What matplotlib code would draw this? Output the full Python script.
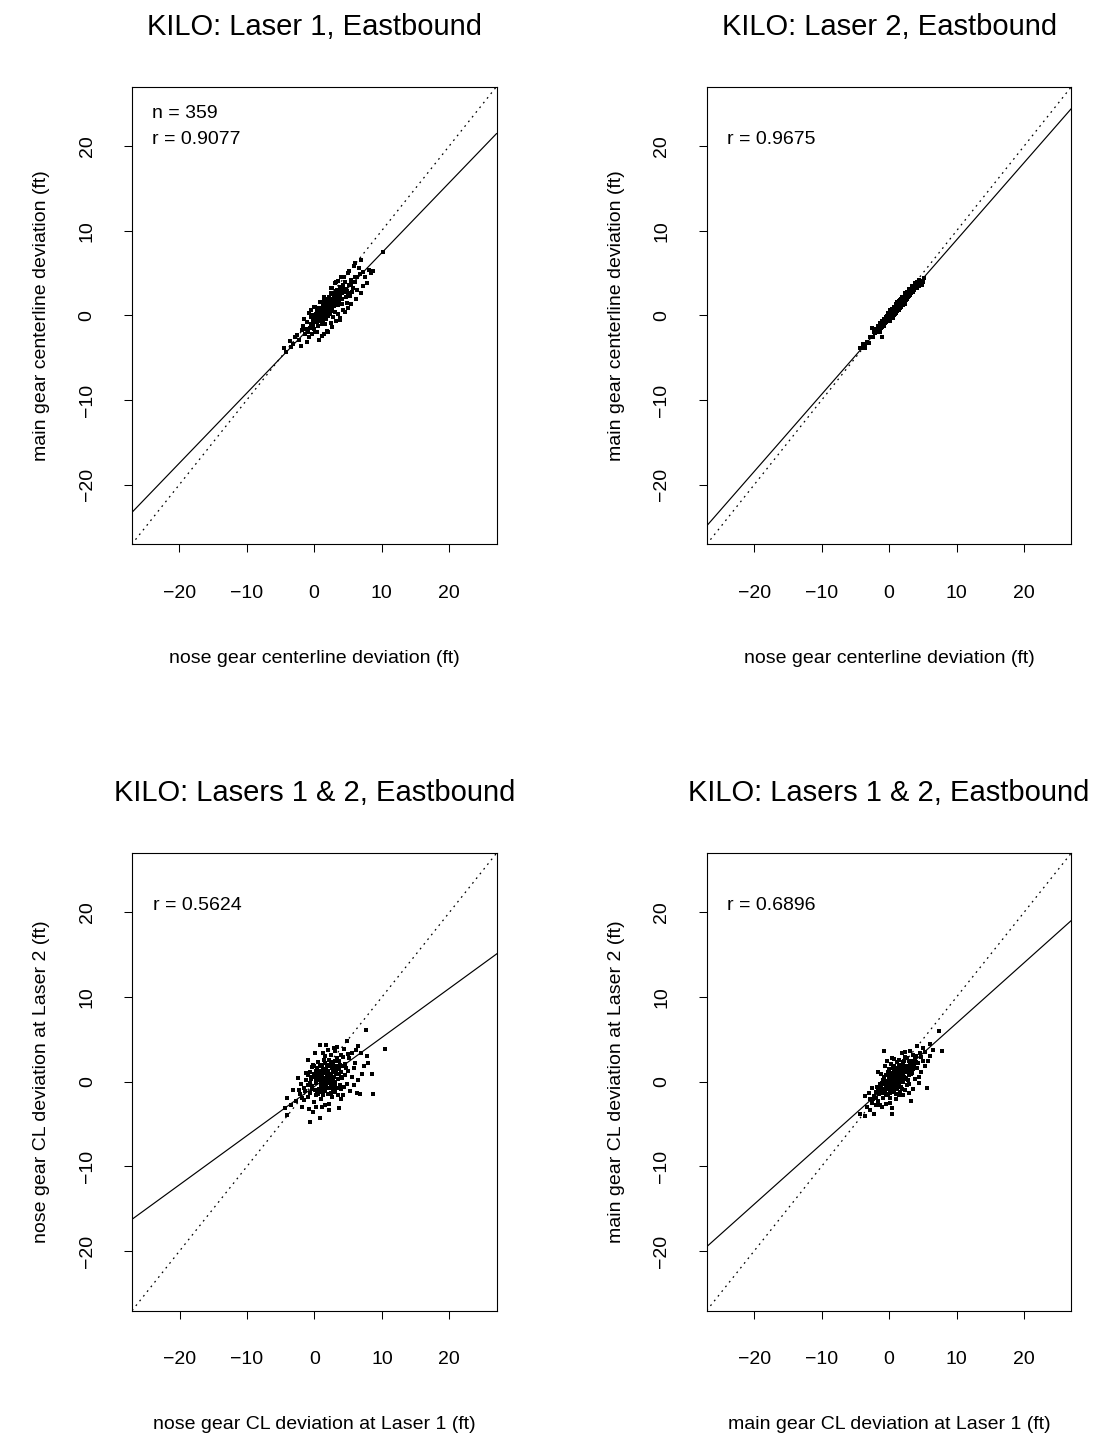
import matplotlib
matplotlib.use("Agg")
import matplotlib.pyplot as plt

plt.rcParams['font.family'] = ['Liberation Sans', 'DejaVu Sans']

# ---------------- data ----------------
titles = ["KILO: Laser 1, Eastbound", "KILO: Laser 2, Eastbound",
          "KILO: Lasers 1 & 2, Eastbound", "KILO: Lasers 1 & 2, Eastbound"]
xlabels = ["nose gear centerline deviation (ft)", "nose gear centerline deviation (ft)",
           "nose gear CL deviation at Laser 1 (ft)", "main gear CL deviation at Laser 1 (ft)"]
ylabels = ["main gear centerline deviation (ft)", "main gear centerline deviation (ft)",
           "nose gear CL deviation at Laser 2 (ft)", "main gear CL deviation at Laser 2 (ft)"]
annotations = [["n = 359", "r = 0.9077"], ["r = 0.9675"], ["r = 0.5624"], ["r = 0.6896"]]

# fitted regression lines (intercept, slope)
fit_intercepts = [-0.9, -0.2, -0.57, -0.22]
fit_slopes = [0.828, 0.912, 0.58, 0.713]

ticks = [-20, -10, 0, 10, 20]
axis_limit = [-27.04, 27.04]

laser1_points = [
    (1.2,0.3),(0.8,-0.5),(2.1,0.9),(1.5,0.1),(0.3,-0.8),(2.6,1.4),(3.0,1.1),(1.9,1.6),(0.5,0.4),(-0.2,-1.1),
    (1.0,-0.2),(2.3,0.2),(3.4,2.0),(2.8,2.5),(1.7,-0.4),(0.1,-0.3),(-0.6,-1.5),(1.3,1.2),(2.0,-0.1),(3.7,1.8),
    (4.1,2.6),(0.9,0.8),(1.6,0.6),(2.4,1.9),(-0.9,-1.9),(0.0,-1.6),(3.2,2.9),(4.4,3.1),(2.7,0.5),(1.1,-1.0),
    (0.6,-1.2),(1.4,1.7),(2.2,2.2),(3.9,3.4),(4.8,2.9),(5.2,3.6),(0.4,0.9),(-0.4,-0.2),(1.8,0.0),(2.9,1.6),
    (3.5,1.2),(4.6,3.9),(5.5,4.2),(6.1,4.0),(5.8,3.3),(-1.3,-2.2),(-1.8,-1.7),(-2.2,-2.9),(-2.6,-2.3),(-3.1,-3.4),
    (-3.6,-3.0),(-4.1,-4.3),(-4.4,-3.9),(-1.1,-0.8),(-0.7,-2.6),(0.2,-2.0),(0.7,-2.9),(1.5,-2.2),(2.5,-0.9),(3.3,-0.6),
    (3.8,-0.5),(4.3,0.7),(4.9,1.5),(5.3,2.3),(6.4,3.0),(6.8,4.9),(7.2,5.1),(7.6,4.6),(8.1,5.4),(8.5,5.0),
    (8.8,5.3),(7.9,3.8),(6.6,5.6),(5.9,5.8),(5.1,5.2),(4.5,4.6),(3.6,4.1),(3.1,3.8),(2.6,3.3),(1.6,2.0),
    (0.9,1.6),(0.2,1.0),(-0.5,0.6),(-1.5,-0.4),(2.5,3.2),(3.3,3.9),(3.4,3.0),(4.0,1.9),(4.7,2.2),(5.6,2.8),
    (6.2,2.0),(5.0,0.9),(3.6,0.2),(2.6,-1.4),(1.9,-1.8),(1.2,-2.4),(0.5,-1.9),(-0.3,-2.2),(-1.0,-3.1),(-2.0,-3.6),
    (10.2,7.5),(7.0,6.6),(6.0,6.2),(5.0,5.0),(4.0,4.6),(1.5,2.2),(0.0,1.0),(-0.8,0.3),(2.1,-1.9),(3.9,-0.3),
    (4.6,0.4),(5.4,1.3),(6.9,2.6),(7.3,3.5),(1.0,0.5),(1.7,1.0),(2.4,0.7),(0.6,0.0),(3.1,0.4),(2.2,1.3),
    (1.3,-0.6),(0.3,0.2),(2.9,2.0),(3.7,2.5),(4.0,3.0),(4.3,3.6),(1.8,2.0),(2.5,2.7),(1.4,0.9),(2.0,0.5),
    (2.7,1.2),(3.3,1.5),(0.8,0.1),(1.1,0.6),(1.9,1.1),(2.3,1.6),(3.0,2.3),(3.8,2.9),(0.4,-0.4),(-0.1,-0.6),
    (1.6,-1.0),(2.8,-0.2),(4.2,1.3),(5.0,2.6),(5.7,3.9),(6.3,4.5),(-2.9,-2.6),(-3.4,-3.7),(-1.6,-1.2),(-0.3,0.1),
    (1.0,0.2),(1.5,0.8),(2.0,1.0),(2.5,1.0),(3.0,1.8),(0.7,-0.6),(1.8,0.4),(2.2,0.8),(2.9,1.2),(3.4,2.4),
    (0.2,-0.5),(0.9,-0.3),(1.4,0.3),(2.6,0.9),(3.6,1.5),(4.1,2.0),(1.2,0.8),(1.7,1.4),(2.3,1.1),(2.8,1.7),
    (0.5,-0.8),(1.1,-0.5),(2.1,1.8),(3.2,2.1),(3.9,2.2),(4.7,3.1),(0.0,-0.8),(-0.5,-1.0),(1.6,-0.2),(2.7,2.0),
    (3.5,2.7),(4.5,2.8),(5.4,3.7),(6.0,4.6),(1.3,0.0),(2.4,1.3),(0.8,0.9),(1.9,0.6),(3.1,2.6),(-1.2,-1.6),
]

laser2_points = [
    (1.0,0.7),(1.3,1.0),(0.8,0.4),(1.6,1.2),(0.5,0.2),(2.0,1.6),(0.2,-0.1),(1.1,0.9),(1.8,1.7),(2.3,2.0),
    (0.0,-0.4),(-0.3,-0.5),(0.6,0.6),(1.4,0.8),(2.6,2.4),(2.9,2.3),(3.2,2.9),(0.9,1.0),(1.5,1.5),(2.1,1.5),
    (-0.6,-0.9),(-0.9,-1.0),(-1.2,-1.5),(0.3,0.4),(1.2,1.3),(1.7,1.1),(2.4,2.3),(2.8,2.7),(3.5,3.0),(3.8,3.3),
    (0.4,-0.2),(0.7,0.1),(1.9,1.3),(2.2,2.1),(2.5,1.8),(3.0,2.6),(3.3,3.1),(4.0,3.6),(4.3,3.7),(4.6,3.9),
    (-0.1,0.0),(-0.5,-0.2),(-0.8,-1.3),(-1.5,-1.6),(-1.8,-2.0),(-2.1,-2.1),(-2.4,-2.5),(-2.0,-1.6),(-1.0,-0.7),(0.1,0.3),
    (1.0,0.3),(1.3,0.6),(0.6,-0.3),(1.6,0.9),(2.0,1.2),(2.7,2.0),(3.1,2.4),(3.6,3.4),(4.1,3.2),(4.8,4.1),
    (5.0,4.0),(4.9,3.6),(4.5,4.2),(3.9,3.8),(3.4,3.5),(2.9,3.1),(2.3,2.6),(1.7,2.0),(1.2,1.6),(0.7,1.0),
    (0.2,0.7),(-0.2,0.3),(-0.7,-0.4),(-1.3,-0.9),(-2.5,-1.5),(-1.0,-2.5),(-3.6,-3.5),(-3.8,-3.7),(-4.0,-3.9),(-3.9,-3.4),
    (-3.5,-3.9),(-4.3,-3.8),(-3.2,-3.1),(-2.8,-2.6),(-3.0,-3.3),(0.9,0.6),(1.1,1.1),(1.4,1.2),(1.8,1.4),(2.1,1.9),
    (2.4,1.7),(0.5,0.5),(0.8,0.8),(1.5,0.7),(2.6,2.1),(3.0,2.8),(1.9,2.2),(1.2,0.5),(0.3,0.0),(-0.4,-0.8),
    (-1.6,-1.2),(-1.1,-1.4),(0.0,0.2),(0.6,0.3),(1.7,1.6),(2.2,1.7),(2.8,2.4),(3.7,3.0),(4.2,3.9),(5.2,4.4),
    (1.0,1.4),(1.6,1.8),(2.0,2.0),(2.5,2.6),(0.4,0.8),(-0.2,-0.3),(-0.6,-0.6),(1.3,1.5),(0.9,0.2),(2.3,1.4),
    (3.2,2.6),(3.5,2.8),(0.1,-0.6),(-1.4,-1.9),(1.4,1.7),(1.8,1.0),(2.6,2.8),(3.9,3.5),(4.4,3.5),(-2.2,-1.9),
    (0.5,0.0),(1.0,0.5),(1.5,1.0),(2.0,1.4),(2.5,2.0),(3.0,2.5),(0.2,0.2),(0.8,0.5),(1.3,0.8),(1.8,1.5),
    (2.3,1.8),(2.8,2.2),(3.3,2.7),(-0.3,-0.1),(0.1,-0.2),(0.7,0.7),(1.2,0.7),(1.7,1.3),(2.2,1.6),(2.7,2.5),
    (3.6,3.1),(4.0,3.4),(-0.8,-0.8),(-1.7,-1.5),(1.1,0.8),(1.6,1.4),(2.1,1.8),(0.4,0.3),(0.9,0.8),(1.4,1.0),
]

lasers12_nose_points = [
    (2.1,0.7),(1.5,0.3),(2.8,1.2),(0.9,-0.4),(3.4,0.9),(1.2,1.5),(2.5,-0.5),(0.4,0.8),(1.8,2.0),(3.0,2.4),
    (-0.3,-0.9),(0.2,-1.6),(1.0,0.1),(1.6,-1.1),(2.3,1.8),(3.7,1.5),(4.1,0.4),(2.0,-1.4),(0.7,1.2),(1.3,-0.2),
    (2.7,0.3),(3.3,-0.8),(4.5,2.1),(5.0,1.3),(4.8,-0.3),(0.0,0.5),(-0.6,-0.2),(-1.0,-1.8),(-1.5,-0.7),(-2.1,-1.4),
    (-2.7,-2.3),(-3.2,-1.0),(-4.1,-1.9),(-4.3,-3.1),(-4.1,-3.9),(-3.5,-2.8),(-2.4,0.4),(-1.8,-3.0),(-0.7,-4.8),(0.8,-4.3),
    (-0.2,-3.6),(1.1,-3.0),(2.2,-2.6),(3.6,-3.1),(5.3,-1.1),(6.3,-1.3),(6.8,-1.4),(8.7,-1.5),(8.5,0.9),(7.8,3.0),
    (10.5,3.9),(6.5,4.2),(7.7,6.1),(4.8,4.8),(1.7,4.3),(0.8,4.3),(3.1,3.6),(2.4,3.1),(5.6,3.4),(6.0,2.2),
    (5.5,0.5),(4.2,-1.6),(3.9,3.2),(1.4,2.6),(0.5,2.3),(-0.4,1.7),(-1.2,1.0),(-0.9,2.6),(0.1,3.4),(2.9,4.0),
    (4.4,3.9),(6.9,3.4),(7.3,1.8),(6.4,0.2),(1.9,0.9),(2.6,1.6),(1.1,0.6),(0.6,-0.9),(1.7,-0.5),(2.4,0.0),
    (3.2,1.0),(3.8,2.0),(0.3,-0.2),(-0.1,0.9),(1.4,1.0),(2.0,1.3),(2.9,-0.2),(3.5,0.3),(4.0,1.1),(4.6,0.8),
    (1.6,2.2),(2.2,2.6),(0.8,1.8),(-0.5,0.3),(-1.0,-0.4),(-1.6,-2.2),(-2.3,-1.0),(0.0,-2.4),(0.9,-2.0),(1.5,-2.7),
    (2.6,-1.8),(3.0,-1.2),(4.4,-0.6),(5.1,2.8),(5.8,1.6),(3.3,2.8),(1.2,3.4),(-0.2,2.0),(2.7,2.0),(1.9,-0.1),
    (0.5,0.4),(1.0,-1.2),(2.3,0.6),(3.6,0.9),(4.3,2.9),(-1.3,0.2),(-2.0,-0.3),(-0.8,-3.2),(0.3,-3.0),(2.1,-3.4),
    (3.9,-2.0),(5.9,-0.4),(7.1,0.9),(8.0,2.2),(6.2,3.8),(4.9,3.3),(3.4,4.1),(2.0,3.7),(1.3,0.4),(2.5,0.9),
    (1.7,1.4),(0.7,0.2),(3.1,1.6),(2.9,0.6),(1.6,-0.6),(0.2,1.3),(-0.7,-1.3),(-1.9,-1.9),(0.4,-1.1),(1.8,0.4),
    (0.6,1.0),(1.1,2.0),(1.9,1.8),(2.6,0.4),(3.3,1.9),(0.2,0.1),(0.9,0.9),(1.5,-0.9),(2.2,-0.7),(3.0,0.0),
    (3.8,-0.4),(4.2,1.8),(-0.4,-0.5),(0.1,-1.0),(1.3,-1.6),(2.5,2.3),(3.6,2.5),(1.0,1.3),(1.7,0.2),(2.8,-1.0),
    (0.4,1.6),(-0.3,0.6),(2.1,0.1),(3.1,-0.5),(4.7,1.6),(1.4,-0.3),(2.0,2.0),(0.8,0.6),(-0.9,0.8),(-1.4,-1.1),
    (3.5,-1.6),(4.0,-0.9),(0.0,1.9),(1.6,3.0),(2.4,-1.3),(1.2,-0.7),(2.9,1.3),(3.9,0.6),(0.5,-1.4),(-0.6,1.1),
]

lasers12_main_points = [
    (0.9,0.3),(1.3,0.8),(0.4,-0.2),(1.8,1.2),(0.0,0.5),(2.2,0.6),(-0.5,-0.6),(1.0,1.4),(2.6,1.9),(1.5,-0.3),
    (-0.9,0.2),(0.6,1.6),(2.0,2.3),(3.0,1.5),(-1.3,-1.1),(-0.2,-1.4),(1.2,-0.9),(2.8,0.2),(3.4,2.4),(0.3,2.1),
    (-1.8,-0.6),(-2.3,-1.7),(-1.6,-2.3),(-2.9,-2.1),(-3.5,-1.7),(-3.2,-3.0),(-4.3,-3.85),(-3.5,-4.1),(-2.3,-3.85),(-2.8,-3.3),
    (0.45,-3.85),(0.45,-3.1),(3.2,-2.3),(5.6,-0.7),(7.9,3.6),(7.4,6.0),(6.1,4.4),(4.2,4.2),(-0.8,3.6),(1.9,3.4),
    (4.0,3.0),(5.1,2.5),(4.7,1.1),(3.8,0.3),(2.4,-1.0),(1.0,-2.0),(-0.4,-2.6),(-1.1,-3.0),(-1.7,1.2),(-0.6,1.9),
    (0.8,2.7),(2.3,2.9),(3.1,3.6),(5.3,3.5),(6.0,3.0),(4.5,-0.2),(3.6,-0.9),(2.0,-1.6),(0.1,-1.9),(-2.0,-2.8),
    (0.7,0.0),(1.1,0.5),(1.6,0.9),(0.2,-0.5),(-0.3,0.1),(2.5,1.1),(1.4,1.9),(0.5,1.0),(1.9,0.1),(2.9,2.5),
    (3.5,1.5),(4.3,2.2),(-0.7,-0.3),(-1.2,-0.7),(0.0,-0.9),(1.7,-0.6),(2.7,-0.4),(0.8,-1.2),(-0.1,1.2),(1.2,2.3),
    (2.1,1.6),(3.2,0.9),(4.1,1.6),(4.8,2.9),(5.4,1.8),(-1.5,-1.5),(-2.5,-0.8),(-0.9,-1.9),(0.3,0.6),(1.5,1.3),
    (2.3,0.4),(0.6,-0.6),(1.0,0.9),(1.8,2.0),(2.6,2.8),(-0.4,0.8),(-1.0,-0.1),(0.9,-0.3),(1.3,0.2),(2.0,0.9),
    (3.3,2.0),(3.9,2.7),(-2.0,-1.2),(-2.6,-2.5),(-3.0,-1.3),(-1.3,-2.7),(0.2,-2.5),(1.4,-1.6),(2.9,-1.3),(4.4,0.6),
    (5.7,2.4),(6.5,3.8),(5.0,4.0),(3.6,3.2),(2.4,3.5),(0.4,2.8),(-0.3,2.4),(-1.2,0.9),(1.6,0.4),(0.7,1.3),
    (1.1,-0.4),(2.2,1.3),(0.1,0.2),(-0.6,-1.1),(1.9,-0.9),(2.8,1.2),(3.0,-0.3),(-0.2,-0.4),(1.5,2.6),(4.6,3.4),
    (0.5,0.4),(1.2,1.0),(0.3,-0.9),(1.7,1.5),(-0.1,-0.2),(2.4,1.6),(-0.8,-0.9),(0.8,1.8),(2.1,2.1),(1.3,-0.5),
    (-1.4,-0.3),(0.0,1.5),(2.7,1.7),(3.1,2.2),(-0.5,-1.6),(0.9,-0.7),(1.6,-1.2),(2.5,0.3),(3.7,2.0),(-1.9,-1.9),
    (-1.1,-1.3),(0.6,0.7),(1.4,0.5),(2.0,0.0),(2.9,0.8),(0.2,1.0),(-0.3,-0.8),(1.8,0.6),(1.0,-1.4),(-0.7,0.5),
    (3.4,1.0),(2.2,2.5),(0.7,-0.1),(1.3,1.6),(-1.6,-0.9),(-2.4,-2.0),(4.0,2.3),(0.4,0.2),(1.9,1.4),(0.1,-1.3),
]

panel_points = [laser1_points, laser2_points, lasers12_nose_points, lasers12_main_points]

# ---------------- layout ----------------
W, H = 1097, 1437
fig = plt.figure(figsize=(W / 100, H / 100), dpi=100)
fig.patch.set_facecolor("white")

ax_w, ax_h = 0.3325, 0.3185
lefts = [0.1201, 0.6442, 0.1204, 0.6442]
bottoms = [0.6212, 0.6212, 0.0880, 0.0880]

for i in range(4):
    ax = fig.add_axes([lefts[i], bottoms[i], ax_w, ax_h])
    ax.set_xlim(axis_limit)
    ax.set_ylim(axis_limit)

    xs = [p[0] for p in panel_points[i]]
    ys = [p[1] for p in panel_points[i]]
    ax.plot(xs, ys, linestyle="none", marker="s", markersize=2.2,
            markeredgewidth=0, color="black", zorder=3)

    ax.axline((0, 0), slope=1, color="black", lw=0.9, linestyle=(0, (1.4, 3.4)))
    ax.axline((0, fit_intercepts[i]), slope=fit_slopes[i], color="black", lw=0.85)

    ax.set_xticks(ticks)
    ax.set_yticks(ticks)
    ax.set_xticklabels([str(t).replace("-", "\u2212") for t in ticks])
    ax.set_yticklabels([str(t).replace("-", "\u2212") for t in ticks])
    ax.tick_params(axis="both", direction="out", length=5.8, width=0.75,
                   labelsize=14, color="black")
    ax.tick_params(axis="x", pad=29.5)
    ax.tick_params(axis="y", pad=26.4)
    for lab in ax.get_xticklabels():
        lab.set_verticalalignment("center")
    for lab in ax.get_yticklabels():
        lab.set_rotation(90)
        lab.set_horizontalalignment("center")
        lab.set_verticalalignment("center")

    for sp in ax.spines.values():
        sp.set_linewidth(0.8)
        sp.set_color("black")

    ax.set_xlabel(xlabels[i], fontsize=14, va="center")
    ax.xaxis.set_label_coords(0.5, -0.249)
    ax.set_ylabel(ylabels[i], fontsize=14, va="center")
    ax.yaxis.set_label_coords(-0.248, 0.5)

    ax.text(0.5, 1.131, titles[i], transform=ax.transAxes, ha="center",
            va="center", fontsize=21)

    for k, txt in enumerate(annotations[i]):
        ax.text(-24.0, 23.9 - 3.1 * k if len(annotations[i]) > 1 else 20.8,
                txt, ha="left", va="center", fontsize=14)

fig.savefig("out.png", dpi=100, facecolor="white")
